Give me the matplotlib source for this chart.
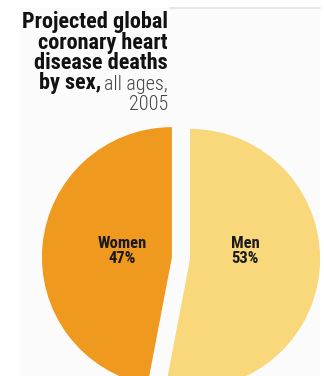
import matplotlib
matplotlib.use("Agg")
import matplotlib.pyplot as plt
from matplotlib import font_manager as fm
from matplotlib.patches import Rectangle
from matplotlib.lines import Line2D

LABELS = ["Men", "Women"]
SHARES = [53, 47]
COLORS = ["#F8D87B", "#EF9A1F"]

W, H = 324, 376
CX, CY, R = 181, 258, 130  # pie centre/radius in pixels


def pick(cands):
    for fam in cands:
        try:
            fm.findfont(fm.FontProperties(family=fam), fallback_to_default=False)
            return fam
        except ValueError:
            pass
    return "DejaVu Sans"


NARROW = pick(["Roboto Condensed", "Archivo Narrow", "Arial Narrow", "Liberation Sans Narrow",
               "PT Sans Narrow", "Barlow Condensed", "Encode Sans Condensed", "Roboto"])


def main():
    fig = plt.figure(figsize=(W / 100, H / 100), dpi=100)
    fig.patch.set_facecolor("white")
    fig.patches.append(Rectangle((20 / W, 0), 300 / W, 1 - 8 / H, transform=fig.transFigure,
                                 facecolor="#FBFBFB", edgecolor="none", zorder=-5))
    fig.lines.append(Line2D([170 / W, 320 / W], [1 - 8 / H] * 2, transform=fig.transFigure,
                            color="#E4E4E4", lw=1.2, zorder=-4))

    ax = fig.add_axes([0, 0, 1, 1])
    ax.patch.set_alpha(0)
    ax.pie(SHARES, colors=COLORS, startangle=90, counterclock=False,
           explode=[0.07, 0.07], radius=1.0, wedgeprops=dict(linewidth=0))
    ax.set_xlim(-CX / R, (W - CX) / R)
    ax.set_ylim((CY - H) / R, CY / R)
    ax.set_aspect("auto")
    ax.axis("off")

    # slice labels
    lab = dict(ha="center", va="center", fontsize=12, fontweight="bold",
               family=NARROW, color="#1a1a1a", linespacing=1.0)
    ax.text((122 - CX) / R, (CY - 251) / R, f"{LABELS[1]}\n{SHARES[1]}%", **lab)
    ax.text((245 - CX) / R, (CY - 251) / R, f"{LABELS[0]}\n{SHARES[0]}%", **lab)

    # title, right aligned
    xr = 168 / W
    bold = dict(ha="right", va="baseline", fontsize=16, fontweight="black",
                family=NARROW, color="#111111")
    light = dict(ha="right", va="baseline", fontsize=14.5, fontweight="light",
                 family=NARROW, color="#444444")
    for txt, base in [("Projected global", 28), ("coronary heart", 48.5),
                      ("disease deaths", 69)]:
        fig.text(xr, 1 - base / H, txt, **bold)
    t = fig.text(xr, 1 - 89.5 / H, "all ages,", **light)
    fig.canvas.draw()
    bb = t.get_window_extent()
    fig.text((bb.x0 - 3) / W, 1 - 89.5 / H, "by sex,", **bold)
    fig.text(xr, 1 - 110 / H, "2005", **light)

    fig.savefig("out.png", dpi=100)


if __name__ == "__main__":
    main()
